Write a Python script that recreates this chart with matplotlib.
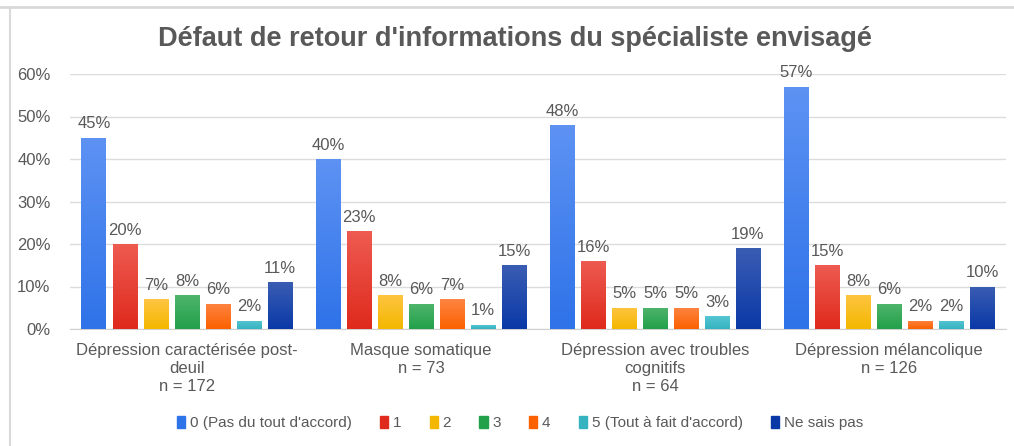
import numpy as np
import matplotlib
matplotlib.use('Agg')
import matplotlib.pyplot as plt
from matplotlib.lines import Line2D
from matplotlib.patches import Patch
from matplotlib.colors import LinearSegmentedColormap

categories = ['Dépression caractérisée post-\ndeuil\nn = 172',
              'Masque somatique\nn = 73',
              'Dépression avec troubles\ncognitifs\nn = 64',
              'Dépression mélancolique\nn = 126']
series = ["0 (Pas du tout d'accord)", '1', '2', '3', '4',
          "5 (Tout à fait d'accord)", 'Ne sais pas']
values = [
    [45, 40, 48, 57],
    [20, 23, 16, 15],
    [7, 8, 5, 8],
    [8, 6, 5, 6],
    [6, 7, 5, 2],
    [2, 1, 3, 2],
    [11, 15, 19, 10],
]
# (top, bottom) of each bar's gradient
colors = [('#5d92f3', '#2f73e9'), ('#ee5b51', '#df2a1d'), ('#fec542', '#f4b700'),
          ('#4fb56c', '#23a04a'), ('#fe8442', '#fb6100'), ('#56c6d2', '#35b3c0'),
          ('#3a5db3', '#0a39a7')]
yticks = [0, 10, 20, 30, 40, 50, 60]

plt.rcParams['font.family'] = ['Liberation Sans', 'DejaVu Sans']
grey = '#595959'

fig = plt.figure(figsize=(10.14, 4.46), dpi=100)
ax = fig.add_axes([70 / 1014, 117 / 446, 936 / 1014, 255 / 446])

x = np.arange(len(categories))
pitch = 31 / 234
width = 25 / 234
grad = np.linspace(0, 1, 64).reshape(-1, 1)
for i, (name, vals, (top, bot)) in enumerate(zip(series, values, colors)):
    pos = x + (i - 3) * pitch
    bars = ax.bar(pos, vals, width, color=bot, label=name, zorder=3)
    cmap = LinearSegmentedColormap.from_list(f'g{i}', [bot, top])
    for b in bars:
        x0, y0 = b.get_x(), b.get_y()
        im = ax.imshow(grad, cmap=cmap, aspect='auto', origin='lower', zorder=3.5,
                       extent=(x0, x0 + b.get_width(), y0, y0 + b.get_height()))
        im.set_clip_path(b)
    for p, v in zip(pos, vals):
        ax.text(p, v + 1.5, f'{v}%', ha='center', va='bottom',
                fontsize=12, color=grey)

ax.set_xlim(-0.5, len(categories) - 0.5)
ax.set_ylim(0, 60)
ax.set_yticks(yticks)
ax.set_yticklabels([f'{t}%' for t in yticks], fontsize=12, color=grey)
ax.set_xticks(x)
ax.set_xticklabels(categories, fontsize=12, color=grey, linespacing=1.25)
ax.tick_params(length=0, pad=10)
ax.tick_params(axis='y', pad=14)
ax.grid(axis='y', color='#dcdcdc', linewidth=1, zorder=0)
for s in ['top', 'right', 'left']:
    ax.spines[s].set_visible(False)
ax.spines['bottom'].set_color('#d0d0d0')

fig.text(515 / 1014, 1 - 39 / 446, "Défaut de retour d'informations du spécialiste envisagé",
         ha='center', va='center', fontsize=19.5, fontweight='bold', color=grey)

handles = [Patch(color=c[1]) for c in colors]
fig.legend(handles, series, loc='center', bbox_to_anchor=(520 / 1014, 1 - 423 / 446),
           ncol=7, frameon=False, fontsize=11, handlelength=0.55, handleheight=0.9,
           handletextpad=0.3, columnspacing=1.85, labelcolor=grey)

# light frame around the chart area
fig.add_artist(Line2D([0, 1], [1 - 7 / 446] * 2, color='#d9d9d9', linewidth=2))
fig.add_artist(Line2D([10 / 1014] * 2, [0, 1 - 7 / 446], color='#d9d9d9', linewidth=1.5))

fig.savefig('out.png', dpi=100)
